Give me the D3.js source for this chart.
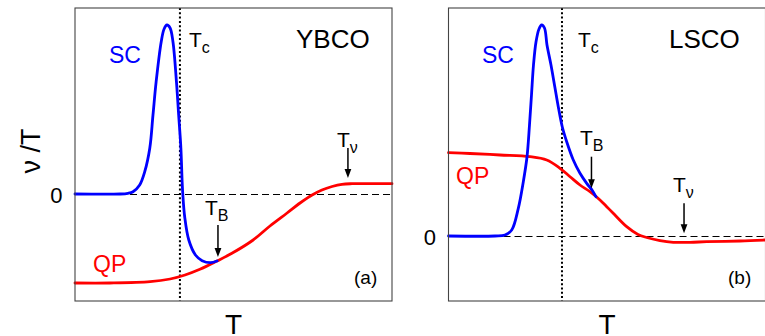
<!DOCTYPE html>
<html>
<head>
<meta charset="utf-8">
<script src="https://cdn.jsdelivr.net/npm/d3@7"></script>
<style>
  html, body { margin: 0; padding: 0; background: #fff; }
  svg { display: block; font-family: "Liberation Sans", Arial, Helvetica, sans-serif; }
</style>
</head>
<body>
<svg id="chart" width="765" height="336"></svg>
<script>
// Reduced temperature T (0..100 across each panel) and ν/T (arbitrary units, 0 = dashed line)
const qpYBCO = [
  [0, -0.89], [11.0, -0.89], [23.7, -0.877], [30.0, -0.85], [34.7, -0.81],
  [39.4, -0.753], [44.8, -0.67], [49.5, -0.593], [56.2, -0.46], [61.5, -0.32],
  [66.9, -0.19], [71.0, -0.09], [74.8, -0.01], [77.9, 0.04], [81.1, 0.075],
  [84.2, 0.097], [87.4, 0.103], [100, 0.103]
];
const scYBCO = [
  [0, 0], [14.2, 0], [16.7, 0.007], [18.3, 0.023], [20.4, 0.09], [22.0, 0.223],
  [23.6, 0.46], [24.6, 0.79], [25.6, 1.123], [27.2, 1.523], [28.1, 1.65],
  [29.0, 1.69], [30.0, 1.66], [30.9, 1.523], [32.0, 1.123], [32.7, 0.79],
  [33.4, 0.46], [33.8, 0.123], [34.0, 0], [34.6, -0.227], [35.9, -0.46],
  [38.0, -0.61], [40.1, -0.667], [42.7, -0.687], [44.8, -0.67]
];
const qpLSCO = [
  [0, 0.833], [6.78, 0.825], [16.25, 0.81], [25.71, 0.793], [30.98, 0.76],
  [35.17, 0.677], [38.33, 0.593], [41.48, 0.51], [44.64, 0.443], [47.79, 0.36],
  [49.91, 0.293], [51.89, 0.23], [56.21, 0.093], [59.78, 0.015], [62.52, -0.015],
  [66.72, -0.047], [70.92, -0.063], [76.18, -0.063], [81.45, -0.057],
  [91.96, -0.05], [100, -0.04]
];
const scLSCO = [
  [0, 0], [14.67, 0], [17.82, 0.01], [19.94, 0.06], [22.02, 0.277], [23.6, 0.543],
  [24.76, 0.79], [25.55, 1.11], [26.18, 1.41], [26.81, 1.71], [27.6, 1.94],
  [28.55, 2.07], [29.4, 2.11], [30.28, 2.08], [31.07, 1.91], [32.33, 1.71],
  [33.6, 1.48], [34.7, 1.28], [35.9, 1.09], [37.29, 0.943], [39.37, 0.76],
  [41.48, 0.627], [43.6, 0.527], [45.27, 0.46], [46.5, 0.393]
];

// Characteristic temperatures marked in each panel
const tcValues = [33.1, 35.8];
const tbMarks = [[45.1, -0.31, -0.63], [45.1, 0.793, 0.477]];   // T, arrow start, arrow tip
const tnuMarks = [[86.1, 0.46, 0.16], [74.3, 0.327, 0.027]];
const vDomains = [[-1.07, 1.86], [-0.65, 2.28]];

// Text
const materials = ["YBCO", "LSCO"];
const panelTags = ["(a)", "(b)"];
const zeroTick = "0";
const yTitle = "ν /T";
const xTitle = "T";

const svg = d3.select("#chart");
const frameTop = 8, frameBottom = 301;
const frames = [[75, 392], [448.5, 765.5]];
const qpSeries = [qpYBCO, qpLSCO];
const scSeries = [scYBCO, scLSCO];

// label placement (pixels) per panel
const layout = [
  { sc: [109, 63], qp: [93, 272], mat: [296, 48], tag: [354, 284], tc: [189, 47],
    tb: [205, 215], tnu: [337, 147], zero: [62.5, 203] },
  { sc: [482, 63], qp: [456, 184], mat: [669, 48], tag: [728, 284], tc: [578, 47],
    tb: [580, 145], tnu: [673, 192], zero: [436, 245] }
];

function subLabel(g, pos, main, sub) {
  const t = g.append("text").attr("x", pos[0]).attr("y", pos[1])
    .attr("font-size", 21).attr("fill", "#000");
  t.append("tspan").text(main);
  t.append("tspan").attr("font-size", 16).attr("dy", 6).text(sub);
}

function arrow(g, x, y1, y2) {
  const head = 9, half = 3.4;
  g.append("line").attr("x1", x).attr("x2", x).attr("y1", y1).attr("y2", y2 - head + 1)
    .attr("stroke", "#000").attr("stroke-width", 1.5);
  g.append("path")
    .attr("d", `M${x - half},${y2 - head} L${x + half},${y2 - head} L${x},${y2} Z`)
    .attr("fill", "#000");
}

frames.forEach((fr, i) => {
  const x = d3.scaleLinear().domain([0, 100]).range(fr);
  const y = d3.scaleLinear().domain(vDomains[i]).range([frameBottom, frameTop]);
  const g = svg.append("g");
  const L = layout[i];

  // zero reference
  const y0 = Math.round(y(0)) + 0.5;
  g.append("line").attr("x1", fr[0]).attr("x2", fr[1]).attr("y1", y0).attr("y2", y0)
    .attr("stroke", "#000").attr("stroke-width", 1).attr("stroke-dasharray", "7,4");

  // Tc
  g.append("line").attr("x1", x(tcValues[i])).attr("x2", x(tcValues[i]))
    .attr("y1", frameTop).attr("y2", frameBottom)
    .attr("stroke", "#000").attr("stroke-width", 2).attr("stroke-dasharray", "2,2.3");

  const line = d3.line().x(d => x(d[0])).y(d => y(d[1])).curve(d3.curveCatmullRom.alpha(0.5));
  g.append("path").datum(qpSeries[i]).attr("d", line)
    .attr("fill", "none").attr("stroke", "#ff0000").attr("stroke-width", 2.8)
    .attr("stroke-linecap", "round");
  g.append("path").datum(scSeries[i]).attr("d", line)
    .attr("fill", "none").attr("stroke", "#0000ff").attr("stroke-width", 2.8)
    .attr("stroke-linecap", "round");

  // frame
  g.append("rect").attr("x", fr[0]).attr("y", frameTop)
    .attr("width", fr[1] - fr[0]).attr("height", frameBottom - frameTop)
    .attr("fill", "none").attr("stroke", "#444").attr("stroke-width", 1.1);

  // arrows
  arrow(g, x(tbMarks[i][0]), y(tbMarks[i][1]), y(tbMarks[i][2]));
  arrow(g, x(tnuMarks[i][0]), y(tnuMarks[i][1]), y(tnuMarks[i][2]));

  subLabel(g, L.tc, "T", "c");
  subLabel(g, L.tb, "T", "B");
  subLabel(g, L.tnu, "T", "ν");

  g.append("text").attr("x", L.sc[0]).attr("y", L.sc[1]).attr("font-size", 23)
    .attr("fill", "#0000ff").text("SC");
  g.append("text").attr("x", L.qp[0]).attr("y", L.qp[1]).attr("font-size", 23)
    .attr("fill", "#ff0000").text("QP");
  g.append("text").attr("x", L.mat[0]).attr("y", L.mat[1]).attr("font-size", 26)
    .attr("fill", "#000").text(materials[i]);
  g.append("text").attr("x", L.tag[0]).attr("y", L.tag[1]).attr("font-size", 19)
    .attr("fill", "#000").text(panelTags[i]);
  g.append("text").attr("x", L.zero[0]).attr("y", L.zero[1]).attr("font-size", 22)
    .attr("text-anchor", "end").attr("fill", "#000").text(zeroTick);

  g.append("text").attr("x", (fr[0] + fr[1]) / 2).attr("y", 334).attr("font-size", 28)
    .attr("text-anchor", "middle").attr("fill", "#000").text(xTitle);
});

svg.append("text").attr("transform", "translate(40,151) rotate(-90)")
  .attr("text-anchor", "middle").attr("font-size", 27).attr("fill", "#000").text(yTitle);
</script>
</body>
</html>
